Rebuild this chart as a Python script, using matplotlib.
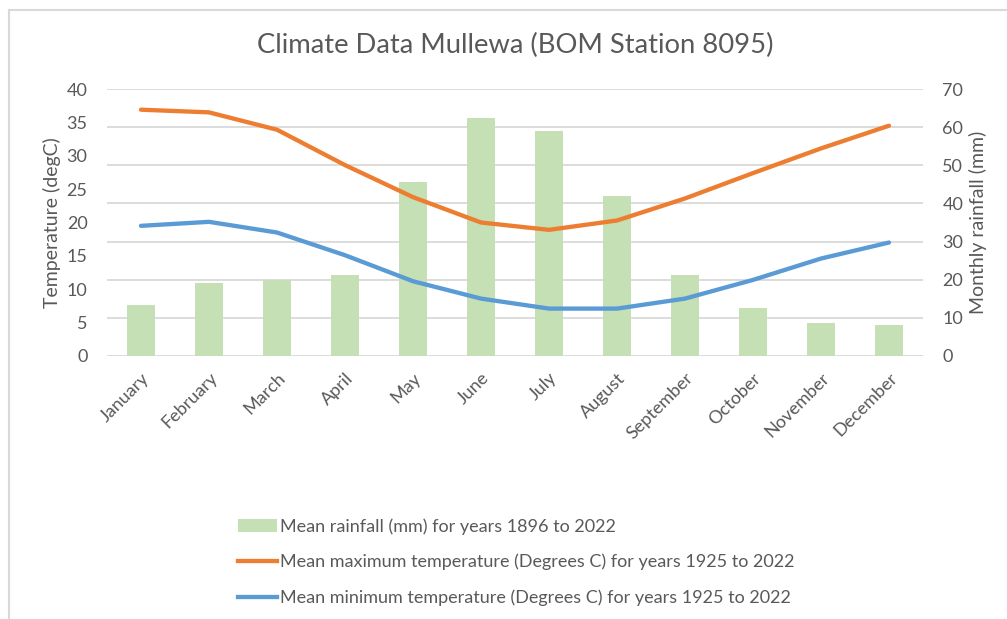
import matplotlib
matplotlib.use("Agg")
import matplotlib.pyplot as plt
from matplotlib.patches import Patch
from matplotlib.lines import Line2D

months = ["January", "February", "March", "April", "May", "June", "July",
          "August", "September", "October", "November", "December"]
rainfall = [13.3, 19.1, 19.9, 21.2, 45.6, 62.5, 58.9, 42.0, 21.2, 12.7, 8.6, 8.1]
max_temp = [36.9, 36.5, 33.9, 28.6, 23.8, 20.0, 18.9, 20.3, 23.6, 27.4, 31.1, 34.5]
min_temp = [19.5, 20.1, 18.5, 15.1, 11.2, 8.6, 7.1, 7.1, 8.6, 11.4, 14.6, 17.0]

title = "Climate Data Mullewa (BOM Station 8095)"
rain_label = "Mean rainfall (mm) for years 1896 to 2022"
max_label = "Mean maximum temperature (Degrees C) for years 1925 to 2022"
min_label = "Mean minimum temperature (Degrees C) for years 1925 to 2022"

TXT = "#595959"
GREEN = "#C5E0B4"
ORANGE = "#ED7D31"
BLUE = "#5B9BD5"
GRID = "#D9D9D9"

plt.rcParams['font.family'] = ['Lato', 'DejaVu Sans']

fig = plt.figure(figsize=(10.07, 6.19), dpi=100)
# chart frame: top and left edges only (rest is cropped away)
fig.add_artist(Line2D([9/1007, 9/1007], [0, 1 - 10/619], transform=fig.transFigure,
                      color=GRID, linewidth=1.5))
fig.add_artist(Line2D([9/1007, 1], [1 - 10/619, 1 - 10/619], transform=fig.transFigure,
                      color=GRID, linewidth=1.5))

ax = fig.add_axes([107/1007, (619-356)/619, 816/1007, 267/619])
ax2 = ax.twinx()
ax.set_zorder(ax2.get_zorder() + 1)
ax.patch.set_visible(False)

x = list(range(len(months)))
ax2.bar(x, rainfall, width=0.4, color=GREEN, zorder=2)
ax2.set_ylim(0, 70)
ax2.set_yticks(range(0, 71, 10))
ax2.set_axisbelow(True)
ax2.grid(axis='y', color=GRID, linewidth=1.3)

ax.plot(x, max_temp, color=ORANGE, linewidth=3.1, solid_capstyle='round')
ax.plot(x, min_temp, color=BLUE, linewidth=3.1, solid_capstyle='round')
ax.set_ylim(0, 40)
ax.set_yticks(range(0, 41, 5))
ax.set_xlim(-0.5, 11.5)
ax.set_xticks(x)
ax.set_xticklabels(months, rotation=45, ha='right', rotation_mode='anchor')

for a in (ax, ax2):
    for s in a.spines.values():
        s.set_visible(False)
    a.tick_params(length=0, labelsize=13, labelcolor=TXT)
ax.tick_params(axis='y', pad=14)
ax2.tick_params(axis='y', pad=14)
ax.tick_params(axis='x', pad=10)

ax.set_ylabel("Temperature (degC)", fontsize=14, color=TXT, labelpad=4)
ax2.set_ylabel("Monthly rainfall (mm)", fontsize=14, color=TXT, labelpad=4)

fig.text(515/1007, 1 - 45/619, title, fontsize=19.7, color=TXT, ha='center', va='center')

handles = [Patch(facecolor=GREEN, edgecolor='none'),
           Line2D([], [], color=ORANGE, linewidth=3.1),
           Line2D([], [], color=BLUE, linewidth=3.1)]
fig.legend(handles, [rain_label, max_label, min_label], loc='upper left',
           bbox_to_anchor=(222/1007, 1 - 502/619), frameon=False, fontsize=13,
           labelcolor=TXT, handlelength=2.16, handletextpad=0.17,
           labelspacing=1.05)

fig.savefig("out.png", dpi=100)
